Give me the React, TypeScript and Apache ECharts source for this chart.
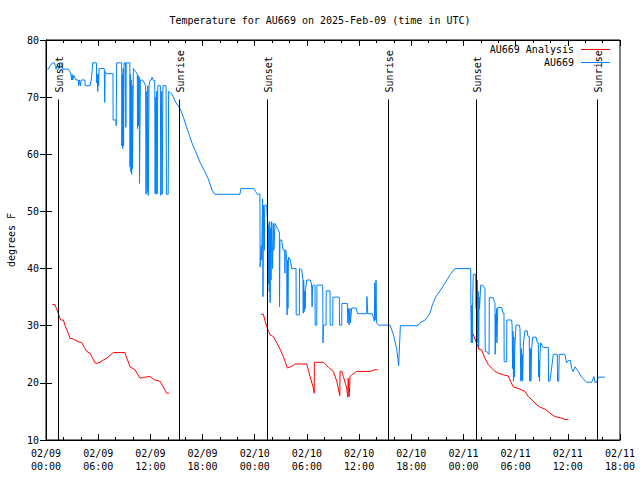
import React, { useEffect, useRef } from 'react';
import * as echarts from 'echarts';

// x values are hours since 2025-02-09 00:00 UTC
const DATE_LABELS = ['02/09', '02/09', '02/09', '02/09', '02/10', '02/10', '02/10', '02/10', '02/11', '02/11', '02/11', '02/11'];
const TIME_LABELS = ['00:00', '06:00', '12:00', '18:00', '00:00', '06:00', '12:00', '18:00', '00:00', '06:00', '12:00', '18:00'];

const SUN_HOURS = [1.42, 15.33, 25.45, 39.35, 49.47, 63.38];
const SUN_LABELS = ['Sunset', 'Sunrise', 'Sunset', 'Sunrise', 'Sunset', 'Sunrise'];

const OBS_DAY1: [number, number][] = [
  [0.15, 74.9], [0.27, 74.9], [0.5, 75.5], [0.73, 76], [0.95, 76], [1.1, 75.4], [1.15, 74.9], [1.3, 75.7], [1.42, 74.9],
  [1.5, 75], [1.6, 76], [1.8, 76], [1.92, 74.9], [2.57, 74.9], [2.75, 74.5], [2.87, 74], [2.95, 73], [3.0, 74], [3.07, 73],
  [3.2, 73.8], [3.45, 73], [3.72, 73], [3.75, 72], [3.85, 73], [3.95, 72], [4.05, 73], [4.48, 73], [4.5, 72], [5.06, 72],
  [5.2, 73], [5.3, 74.5], [5.37, 76], [5.8, 76], [5.83, 72.5], [5.9, 74], [5.95, 71], [6.0, 74], [6.05, 72], [6.1, 75],
  [6.7, 75], [6.75, 69.1], [6.8, 74.5], [6.97, 74.1], [7.7, 74.1], [7.72, 66], [8.05, 66], [8.07, 65], [8.13, 76],
  [8.7, 76], [8.72, 61.5], [8.78, 74], [8.82, 61], [8.88, 75], [8.92, 61.5], [8.98, 76], [9.15, 76], [9.18, 64.7],
  [9.22, 76], [9.64, 76], [9.66, 57.8], [9.7, 74], [9.75, 57], [9.8, 73], [9.85, 56.5], [9.9, 72], [9.95, 57.5],
  [10.04, 75], [10.3, 74.5], [10.5, 74], [10.52, 64.5], [10.6, 73.8], [10.65, 65], [10.72, 73.5], [10.75, 54.9],
  [10.81, 54.9], [10.85, 73], [11.1, 73], [11.3, 72.5], [11.45, 72], [11.5, 53], [11.6, 71], [11.65, 53.5], [11.7, 72],
  [11.75, 52.8], [11.85, 72], [11.95, 72.9], [12.1, 73], [12.2, 73.5], [12.35, 72.9], [12.5, 72.9], [12.55, 53.1],
  [12.62, 70], [12.67, 53], [12.72, 71], [12.78, 53.1], [12.85, 72], [13.15, 72], [13.2, 52.8], [13.3, 71], [13.35, 53],
  [13.45, 72], [13.8, 72], [13.85, 53], [14.05, 53], [14.1, 71], [14.5, 70.5], [14.95, 69], [15.41, 68], [15.8, 66.5],
  [16.17, 64.7], [16.5, 63.3], [16.75, 62.1], [17.2, 60.5], [17.71, 58.6], [18.2, 57.2], [18.66, 55.7], [19.1, 53.7],
  [19.4, 53], [22.3, 53], [22.4, 54], [23.9, 54], [24.1, 53.5], [24.3, 53], [24.6, 53],
];

const OBS_DAY2: [number, number][] = [
  [24.62, 40.3], [24.75, 44], [24.8, 41.5], [24.9, 52.2], [24.95, 35.1], [25.0, 51.1], [25.1, 43.2], [25.15, 51.1],
  [25.38, 51.1], [25.45, 49], [25.55, 47.5], [25.57, 37.4], [25.62, 47.5], [25.67, 36], [25.72, 48.2], [25.77, 34],
  [25.82, 47], [25.87, 38], [25.95, 48.2], [26.05, 40], [26.14, 47.9], [26.2, 43.2], [26.33, 47.9], [26.6, 47],
  [26.83, 46.4], [26.85, 33.3], [26.9, 45], [27.1, 45], [27.2, 43.8], [27.29, 43.2], [27.45, 43.2], [27.47, 39.2],
  [27.5, 43.2], [27.6, 43.2], [27.68, 41.5], [27.72, 31.9], [27.77, 41.5], [27.82, 33], [27.88, 42], [27.94, 41.95],
  [28.1, 41.5], [28.25, 40], [28.75, 40], [28.77, 31.9], [29.13, 31.9], [29.15, 40], [29.4, 39.8], [29.55, 38],
  [29.58, 32.2], [29.62, 38], [29.67, 36.3], [29.7, 32.5], [29.75, 36], [29.8, 33], [29.85, 36.3], [29.98, 38],
  [30.36, 38], [30.5, 37.5], [30.55, 36.5], [30.6, 33.3], [30.65, 37], [30.74, 37.1], [30.93, 37.1], [30.95, 30.1],
  [31.13, 30.1], [31.15, 37.1], [31.82, 37.1], [31.85, 27], [31.9, 30.1], [32.2, 30.1], [32.22, 36.1], [32.66, 36.1],
  [32.68, 30.1], [32.97, 30.1], [32.99, 35], [33.73, 35], [33.75, 30.1], [34.0, 30.1], [34.02, 33.9], [34.65, 33.9],
  [34.7, 30.5], [34.8, 33], [34.85, 30.1], [34.95, 33], [35.0, 30.5], [35.15, 33.1], [35.65, 33.1], [35.84, 32.1],
  [36.87, 32.1], [36.9, 35.1], [37.0, 32.1], [37.5, 32.1], [37.64, 31.5], [37.75, 30.8], [37.8, 37.5], [37.85, 31],
  [37.95, 38], [38.0, 30.5], [38.22, 30.1], [39.56, 30.1], [39.94, 28.5], [40.32, 26], [40.55, 23], [40.6, 23],
  [40.75, 30], [42.77, 30], [43.0, 30.5], [43.58, 31], [44.1, 32], [44.4, 33.5], [44.8, 35], [45.3, 36.1],
  [45.9, 37.5], [46.5, 39], [47.02, 40], [48.83, 40],
];

const OBS_DAY3: [number, number][] = [
  [48.85, 33.6], [48.9, 27], [48.95, 33.6], [49.02, 27], [49.05, 33.6], [49.13, 39], [49.4, 39], [49.45, 33],
  [49.5, 37], [49.55, 30], [49.6, 38], [49.65, 27], [49.7, 36], [49.75, 26], [49.8, 35], [49.85, 33], [49.98, 37.1],
  [50.21, 37.1], [50.47, 36.5], [50.5, 25.5], [50.67, 25.5], [50.95, 25], [50.97, 34.9], [51.43, 34.9], [51.55, 34.2],
  [51.62, 34], [51.65, 25], [51.7, 32], [51.75, 28], [51.8, 33], [51.85, 27], [51.9, 30], [51.95, 33.2], [52.39, 33.2],
  [52.55, 32.2], [52.66, 32.2], [52.68, 23.7], [52.97, 23.7], [52.99, 31], [53.54, 31], [53.6, 30], [53.65, 22.5],
  [53.7, 29], [53.75, 20.3], [53.8, 28], [53.85, 21], [53.9, 26], [54.04, 30.1], [54.42, 30.1], [54.5, 29.5],
  [54.6, 20.3], [54.65, 26], [54.7, 20.5], [54.75, 25], [54.8, 20.3], [54.9, 27], [55.07, 29.1], [55.34, 29.1],
  [55.4, 28.2], [55.57, 28.1], [55.6, 20.3], [55.7, 26], [55.75, 20.3], [55.84, 26], [55.96, 28], [56.34, 28],
  [56.5, 27], [56.61, 27], [56.65, 21], [56.7, 24], [56.75, 20.3], [56.8, 25], [56.88, 27], [57.18, 26.2],
  [57.76, 26.2], [57.78, 20.3], [57.95, 20.3], [58.33, 25], [58.79, 25], [58.82, 20.3], [58.95, 20.3], [59.02, 25],
  [59.67, 25], [59.85, 23.5], [60.06, 23.9], [60.3, 23.9], [60.44, 22.5], [60.6, 22], [60.82, 22.8], [61.21, 22],
  [61.59, 21], [61.9, 20.5], [62.16, 20.1], [62.74, 20.1], [63.0, 21.1], [63.12, 20.1], [63.31, 20.1], [63.5, 21],
  [63.7, 21], [64.27, 21],
];

const ANALYSIS_SEG1: [number, number][] = [
  [0.73, 33.7], [1.03, 33.7], [1.2, 33], [1.4, 32.2], [1.6, 31.3], [1.7, 31], [2.0, 31], [2.2, 30], [2.4, 29.3],
  [2.6, 28.5], [2.76, 27.8], [3.1, 27.7], [3.33, 27.5], [3.9, 27.1], [4.1, 27.1], [4.4, 26.2], [4.68, 25.5],
  [5.06, 25.2], [5.3, 24.5], [5.63, 23.5], [5.9, 23.4], [6.21, 23.6], [6.6, 24.0], [6.98, 24.3], [7.4, 24.9],
  [7.74, 25.3], [9.08, 25.3], [9.3, 24.3], [9.5, 23.5], [9.66, 22.8], [10.0, 22.5], [10.23, 22.3], [10.5, 21.6],
  [10.81, 20.8], [11.1, 20.9], [11.38, 21.0], [11.96, 21.1], [12.2, 20.8], [12.53, 20.5], [13.1, 20.3], [13.4, 19.5],
  [13.7, 18.7], [13.87, 18.2], [14.14, 18.2],
];

const ANALYSIS_SEG2: [number, number][] = [
  [24.72, 32], [24.99, 32], [25.2, 30.8], [25.38, 29.85], [25.6, 29], [25.76, 28.4], [26.14, 28.1], [26.53, 27],
  [26.91, 25.9], [27.29, 24.6], [27.55, 23.5], [27.75, 22.6], [28.25, 22.9], [28.63, 23.3], [29.98, 23.3], [30.2, 22],
  [30.36, 21.1], [30.74, 19.1], [30.84, 18.2], [30.86, 23.6], [31.9, 23.6], [32.47, 22.75], [33.04, 22], [33.43, 20.3],
  [33.78, 17.75], [33.81, 22], [34.0, 22], [34.19, 21.1], [34.58, 19.1], [34.7, 17.5], [34.75, 20.8], [34.85, 17.6],
  [34.92, 19.4], [34.96, 21.1], [35.15, 21.4], [35.73, 22], [37.26, 22], [37.83, 22.3], [38.14, 22.3],
];

const ANALYSIS_SEG3: [number, number][] = [
  [49.06, 28.7], [49.44, 27.2], [49.82, 25.8], [50.09, 25.8], [50.47, 24.3], [50.86, 23.2], [51.24, 22.6], [51.62, 22],
  [52.01, 21.7], [52.58, 21.4], [53.16, 21.2], [53.4, 20.3], [53.73, 19.3], [54.5, 18.9], [55.07, 18.5], [55.46, 17.6],
  [56.03, 16.8], [56.61, 15.9], [57.37, 15.4], [57.95, 14.7], [58.52, 14.1], [59.1, 13.9], [59.67, 13.6], [60.06, 13.6],
];

const FONT = '"DejaVu Sans Mono", "Liberation Mono", monospace';
const BLUE = '#0080ff';
const RED = '#ff0000';
const SUN_LINE_TOP = 69.6;

export default function App() {
  const ref = useRef<HTMLDivElement>(null);
  useEffect(() => {
    if (!ref.current) return;
    const chart = echarts.init(ref.current, undefined, { renderer: 'svg' });
    const axisCommon = {
      axisLine: { show: true, lineStyle: { color: '#000', width: 1 } },
      splitLine: { show: false },
    };
    const redSeries = [ANALYSIS_SEG1, ANALYSIS_SEG2, ANALYSIS_SEG3].map((seg) => ({
      type: 'line',
      name: 'AU669 Analysis',
      data: seg,
      showSymbol: false,
      symbol: 'none',
      lineStyle: { color: RED, width: 1 },
      itemStyle: { color: RED },
      xAxisIndex: 0,
      yAxisIndex: 0,
      z: 3,
    }));
    const option: any = {
      animation: false,
      backgroundColor: '#fff',
      title: {
        text: 'Temperature for AU669 on 2025-Feb-09 (time in UTC)',
        left: 'center',
        top: 10,
        textStyle: { fontFamily: FONT, fontSize: 10, fontWeight: 'normal', color: '#000' },
      },
      grid: {
        left: 46, right: 20, top: 40, bottom: 40, show: true, borderColor: '#000', borderWidth: 1,
        containLabel: false, outerBoundsMode: 'none',
      },
      xAxis: [
        {
          type: 'value', min: 0, max: 66, interval: 6, position: 'bottom',
          ...axisCommon,
          axisTick: { show: true, inside: true, length: 6, lineStyle: { color: '#000' } },
          minorTick: { show: true, splitNumber: 3, length: 3, lineStyle: { color: '#000' } },
          axisLabel: {
            show: true, margin: 7, fontFamily: FONT, fontSize: 10, color: '#000', lineHeight: 13,
            showMinLabel: true, showMaxLabel: true, hideOverlap: false,
            formatter: (v: number) => {
              const i = Math.round(v / 6);
              return DATE_LABELS[i] + '\n' + TIME_LABELS[i];
            },
          },
        },
        {
          type: 'value', min: 0, max: 66, interval: 6, position: 'top',
          ...axisCommon,
          axisTick: { show: true, inside: true, length: 6, lineStyle: { color: '#000' } },
          minorTick: { show: true, splitNumber: 3, length: 3, lineStyle: { color: '#000' } },
          axisLabel: { show: false },
        },
      ],
      yAxis: [
        {
          type: 'value', min: 10, max: 80, interval: 10, position: 'left',
          ...axisCommon,
          name: 'degrees F', nameLocation: 'middle', nameGap: 30, nameRotate: 90,
          nameTextStyle: { fontFamily: FONT, fontSize: 10, color: '#000' },
          axisTick: { show: true, inside: true, length: 6, lineStyle: { color: '#000' } },
          axisLabel: { show: true, margin: 7, fontFamily: FONT, fontSize: 10, color: '#000', showMinLabel: true, showMaxLabel: true },
        },
        {
          type: 'value', min: 10, max: 80, interval: 10, position: 'right',
          ...axisCommon,
          axisTick: { show: true, inside: true, length: 6, lineStyle: { color: '#000' } },
          axisLabel: { show: false },
        },
      ],
      graphic: [
        { type: 'text', right: 66, top: 44, style: { text: 'AU669 Analysis', font: '10px ' + FONT, fill: '#000', align: 'right' } },
        { type: 'line', shape: { x1: 581, y1: 49.5, x2: 610, y2: 49.5 }, style: { stroke: RED, lineWidth: 1 } },
        { type: 'text', right: 66, top: 57, style: { text: 'AU669', font: '10px ' + FONT, fill: '#000', align: 'right' } },
        { type: 'line', shape: { x1: 581, y1: 62.5, x2: 610, y2: 62.5 }, style: { stroke: BLUE, lineWidth: 1 } },
      ],
      series: [
        {
          type: 'custom',
          name: 'sun',
          xAxisIndex: 0,
          yAxisIndex: 0,
          data: SUN_HOURS.map((h, i) => [h, i]),
          clip: false,
          z: 4,
          renderItem: (params: any, api: any) => {
            const h = api.value(0);
            const i = api.value(1);
            const p0 = api.coord([h, 10]);
            const p1 = api.coord([h, SUN_LINE_TOP]);
            const x = Math.round(p0[0]) + 0.5;
            return {
              type: 'group',
              children: [
                { type: 'line', shape: { x1: x, y1: p0[1], x2: x, y2: p1[1] }, style: { stroke: '#000', lineWidth: 1 } },
                {
                  type: 'text', x: x + 1, y: p1[1] - 7, rotation: Math.PI / 2,
                  style: { text: SUN_LABELS[i], font: '10px ' + FONT, fill: '#000', align: 'left', verticalAlign: 'middle' },
                },
              ],
            };
          },
        },
        {
          type: 'line',
          name: 'AU669',
          data: [...OBS_DAY1, ...OBS_DAY2, ...OBS_DAY3],
          showSymbol: false,
          symbol: 'none',
          lineStyle: { color: BLUE, width: 1 },
          itemStyle: { color: BLUE },
          xAxisIndex: 0,
          yAxisIndex: 0,
          z: 3,
        },
        ...redSeries,
      ],
    };
    chart.setOption(option);
    return () => chart.dispose();
  }, []);
  return <div ref={ref} style={{ position: 'absolute', left: 0, top: 0, width: 640, height: 480 }} />;
}
